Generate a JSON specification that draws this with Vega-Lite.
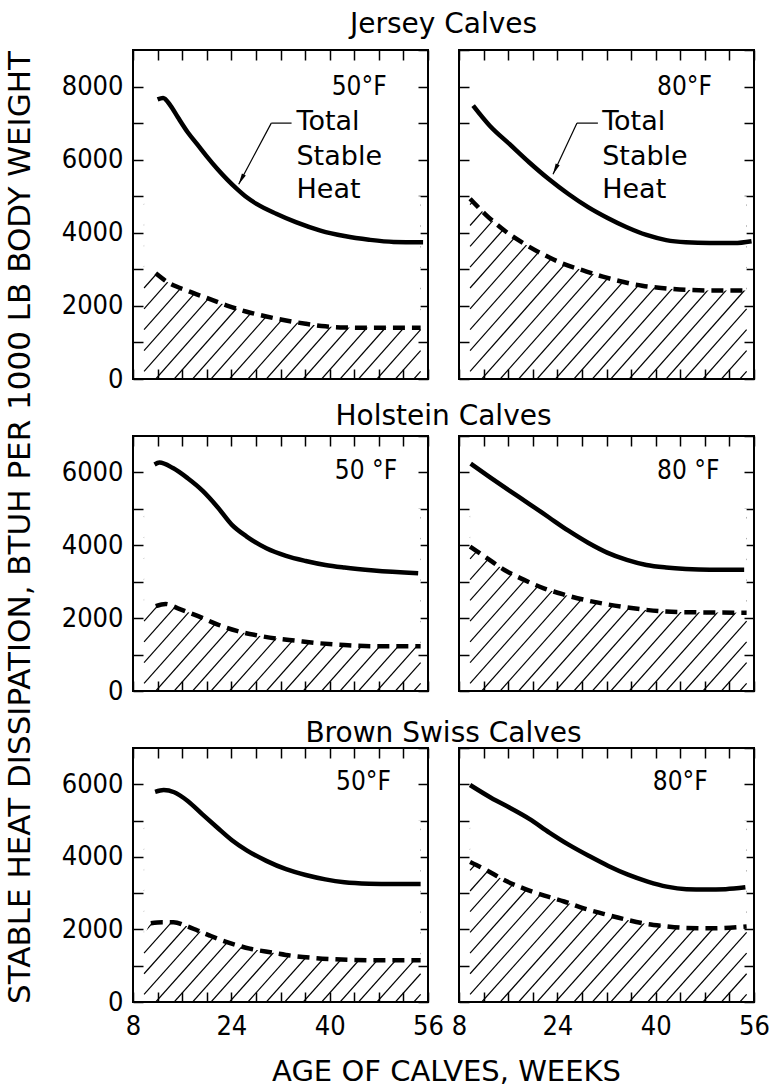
{
"$schema":"https://vega.github.io/schema/vega-lite/v6.json",
"background":"white",
"padding":{"left":2,"top":10,"right":0,"bottom":0},
"bounds":"flush",
"columns":2,
"spacing":{"row":57,"column":31},
"datasets":{
"curves":[
{"p":"J50","c":"total","w":12.0,"v":7650},{"p":"J50","c":"total","w":12.9,"v":7690},{"p":"J50","c":"total","w":14.1,"v":7480},{"p":"J50","c":"total","w":15.3,"v":7160},{"p":"J50","c":"total","w":16.9,"v":6750},{"p":"J50","c":"total","w":18.5,"v":6410},{"p":"J50","c":"total","w":20.1,"v":6070},{"p":"J50","c":"total","w":21.7,"v":5750},{"p":"J50","c":"total","w":23.3,"v":5460},{"p":"J50","c":"total","w":24.9,"v":5200},{"p":"J50","c":"total","w":26.5,"v":4970},{"p":"J50","c":"total","w":28.1,"v":4790},{"p":"J50","c":"total","w":31.3,"v":4520},{"p":"J50","c":"total","w":34.5,"v":4290},{"p":"J50","c":"total","w":38.5,"v":4060},{"p":"J50","c":"total","w":42.4,"v":3910},{"p":"J50","c":"total","w":46.4,"v":3810},{"p":"J50","c":"total","w":50.4,"v":3750},{"p":"J50","c":"total","w":55.2,"v":3740},
{"p":"J50","c":"edge","w":9.8,"v":2700},
{"p":"J50","c":"stable","w":11.7,"v":2890},{"p":"J50","c":"stable","w":13.7,"v":2640},{"p":"J50","c":"stable","w":16.9,"v":2410},{"p":"J50","c":"stable","w":20.1,"v":2210},{"p":"J50","c":"stable","w":23.3,"v":2010},{"p":"J50","c":"stable","w":26.5,"v":1840},{"p":"J50","c":"stable","w":29.7,"v":1710},{"p":"J50","c":"stable","w":32.9,"v":1600},{"p":"J50","c":"stable","w":36.1,"v":1510},{"p":"J50","c":"stable","w":39.3,"v":1440},{"p":"J50","c":"stable","w":42.4,"v":1410},{"p":"J50","c":"stable","w":47.2,"v":1400},{"p":"J50","c":"stable","w":54.8,"v":1400},
{"p":"J80","c":"total","w":10.3,"v":7480},{"p":"J80","c":"total","w":13.0,"v":6930},{"p":"J80","c":"total","w":16.2,"v":6430},{"p":"J80","c":"total","w":19.4,"v":5930},{"p":"J80","c":"total","w":22.6,"v":5470},{"p":"J80","c":"total","w":25.8,"v":5060},{"p":"J80","c":"total","w":29.0,"v":4700},{"p":"J80","c":"total","w":32.1,"v":4410},{"p":"J80","c":"total","w":35.3,"v":4150},{"p":"J80","c":"total","w":38.5,"v":3940},{"p":"J80","c":"total","w":41.7,"v":3800},{"p":"J80","c":"total","w":44.9,"v":3740},{"p":"J80","c":"total","w":48.8,"v":3720},{"p":"J80","c":"total","w":52.8,"v":3720},{"p":"J80","c":"total","w":55.6,"v":3770},
{"p":"J80","c":"stable","w":9.8,"v":4930},{"p":"J80","c":"stable","w":12.2,"v":4520},{"p":"J80","c":"stable","w":15.4,"v":4060},{"p":"J80","c":"stable","w":18.6,"v":3700},{"p":"J80","c":"stable","w":21.8,"v":3400},{"p":"J80","c":"stable","w":25.0,"v":3150},{"p":"J80","c":"stable","w":28.2,"v":2970},{"p":"J80","c":"stable","w":31.4,"v":2800},{"p":"J80","c":"stable","w":34.6,"v":2660},{"p":"J80","c":"stable","w":37.8,"v":2550},{"p":"J80","c":"stable","w":40.9,"v":2490},{"p":"J80","c":"stable","w":44.9,"v":2440},{"p":"J80","c":"stable","w":48.8,"v":2420},{"p":"J80","c":"stable","w":54.8,"v":2420},
{"p":"H50","c":"total","w":11.5,"v":6220},{"p":"H50","c":"total","w":12.3,"v":6270},{"p":"H50","c":"total","w":14.5,"v":6120},{"p":"H50","c":"total","w":16.9,"v":5840},{"p":"H50","c":"total","w":19.3,"v":5500},{"p":"H50","c":"total","w":21.7,"v":5060},{"p":"H50","c":"total","w":24.1,"v":4560},{"p":"H50","c":"total","w":26.5,"v":4240},{"p":"H50","c":"total","w":29.7,"v":3920},{"p":"H50","c":"total","w":32.9,"v":3710},{"p":"H50","c":"total","w":36.1,"v":3570},{"p":"H50","c":"total","w":39.3,"v":3460},{"p":"H50","c":"total","w":42.4,"v":3390},{"p":"H50","c":"total","w":47.2,"v":3310},{"p":"H50","c":"total","w":54.4,"v":3230},
{"p":"H50","c":"edge","w":9.8,"v":2100},
{"p":"H50","c":"stable","w":11.7,"v":2330},{"p":"H50","c":"stable","w":13.3,"v":2390},{"p":"H50","c":"stable","w":15.3,"v":2270},{"p":"H50","c":"stable","w":18.5,"v":2060},{"p":"H50","c":"stable","w":21.7,"v":1830},{"p":"H50","c":"stable","w":24.9,"v":1650},{"p":"H50","c":"stable","w":28.1,"v":1530},{"p":"H50","c":"stable","w":31.3,"v":1440},{"p":"H50","c":"stable","w":34.5,"v":1380},{"p":"H50","c":"stable","w":37.7,"v":1320},{"p":"H50","c":"stable","w":42.4,"v":1260},{"p":"H50","c":"stable","w":47.2,"v":1230},{"p":"H50","c":"stable","w":54.8,"v":1230},
{"p":"H80","c":"total","w":9.9,"v":6240},{"p":"H80","c":"total","w":13.0,"v":5870},{"p":"H80","c":"total","w":16.2,"v":5500},{"p":"H80","c":"total","w":19.4,"v":5140},{"p":"H80","c":"total","w":22.6,"v":4770},{"p":"H80","c":"total","w":25.8,"v":4400},{"p":"H80","c":"total","w":29.0,"v":4070},{"p":"H80","c":"total","w":32.1,"v":3800},{"p":"H80","c":"total","w":35.3,"v":3600},{"p":"H80","c":"total","w":38.5,"v":3460},{"p":"H80","c":"total","w":41.7,"v":3390},{"p":"H80","c":"total","w":44.9,"v":3350},{"p":"H80","c":"total","w":48.8,"v":3330},{"p":"H80","c":"total","w":54.4,"v":3330},
{"p":"H80","c":"stable","w":9.8,"v":3960},{"p":"H80","c":"stable","w":12.2,"v":3690},{"p":"H80","c":"stable","w":15.4,"v":3320},{"p":"H80","c":"stable","w":18.6,"v":3050},{"p":"H80","c":"stable","w":21.8,"v":2820},{"p":"H80","c":"stable","w":25.0,"v":2650},{"p":"H80","c":"stable","w":28.2,"v":2510},{"p":"H80","c":"stable","w":31.4,"v":2400},{"p":"H80","c":"stable","w":34.6,"v":2310},{"p":"H80","c":"stable","w":37.8,"v":2240},{"p":"H80","c":"stable","w":41.7,"v":2180},{"p":"H80","c":"stable","w":46.5,"v":2160},{"p":"H80","c":"stable","w":54.8,"v":2150},
{"p":"B50","c":"total","w":11.6,"v":5790},{"p":"B50","c":"total","w":13.0,"v":5840},{"p":"B50","c":"total","w":14.7,"v":5780},{"p":"B50","c":"total","w":16.9,"v":5540},{"p":"B50","c":"total","w":19.3,"v":5170},{"p":"B50","c":"total","w":21.7,"v":4810},{"p":"B50","c":"total","w":24.1,"v":4460},{"p":"B50","c":"total","w":26.5,"v":4180},{"p":"B50","c":"total","w":29.7,"v":3890},{"p":"B50","c":"total","w":32.9,"v":3660},{"p":"B50","c":"total","w":36.1,"v":3500},{"p":"B50","c":"total","w":39.3,"v":3380},{"p":"B50","c":"total","w":42.4,"v":3300},{"p":"B50","c":"total","w":46.4,"v":3260},{"p":"B50","c":"total","w":50.4,"v":3250},{"p":"B50","c":"total","w":54.8,"v":3250},
{"p":"B50","c":"edge","w":9.8,"v":1700},
{"p":"B50","c":"stable","w":10.9,"v":2170},{"p":"B50","c":"stable","w":12.8,"v":2200},{"p":"B50","c":"stable","w":14.6,"v":2200},{"p":"B50","c":"stable","w":16.6,"v":2100},{"p":"B50","c":"stable","w":18.5,"v":1970},{"p":"B50","c":"stable","w":20.5,"v":1830},{"p":"B50","c":"stable","w":22.8,"v":1680},{"p":"B50","c":"stable","w":25.0,"v":1560},{"p":"B50","c":"stable","w":27.0,"v":1470},{"p":"B50","c":"stable","w":30.8,"v":1360},{"p":"B50","c":"stable","w":34.0,"v":1270},{"p":"B50","c":"stable","w":37.0,"v":1220},{"p":"B50","c":"stable","w":40.7,"v":1180},{"p":"B50","c":"stable","w":44.0,"v":1160},{"p":"B50","c":"stable","w":48.0,"v":1150},{"p":"B50","c":"stable","w":54.8,"v":1150},
{"p":"B80","c":"total","w":9.8,"v":5980},{"p":"B80","c":"total","w":13.2,"v":5630},{"p":"B80","c":"total","w":16.4,"v":5340},{"p":"B80","c":"total","w":19.5,"v":5040},{"p":"B80","c":"total","w":22.7,"v":4670},{"p":"B80","c":"total","w":25.9,"v":4330},{"p":"B80","c":"total","w":29.1,"v":4030},{"p":"B80","c":"total","w":32.3,"v":3750},{"p":"B80","c":"total","w":35.5,"v":3510},{"p":"B80","c":"total","w":38.7,"v":3320},{"p":"B80","c":"total","w":41.8,"v":3180},{"p":"B80","c":"total","w":45.0,"v":3110},{"p":"B80","c":"total","w":48.2,"v":3100},{"p":"B80","c":"total","w":51.4,"v":3110},{"p":"B80","c":"total","w":54.6,"v":3160},
{"p":"B80","c":"stable","w":9.8,"v":3860},{"p":"B80","c":"stable","w":12.4,"v":3640},{"p":"B80","c":"stable","w":15.6,"v":3340},{"p":"B80","c":"stable","w":18.8,"v":3110},{"p":"B80","c":"stable","w":21.9,"v":2930},{"p":"B80","c":"stable","w":25.1,"v":2770},{"p":"B80","c":"stable","w":28.3,"v":2580},{"p":"B80","c":"stable","w":31.5,"v":2430},{"p":"B80","c":"stable","w":34.7,"v":2290},{"p":"B80","c":"stable","w":37.9,"v":2170},{"p":"B80","c":"stable","w":41.0,"v":2100},{"p":"B80","c":"stable","w":45.0,"v":2040},{"p":"B80","c":"stable","w":49.0,"v":2030},{"p":"B80","c":"stable","w":54.8,"v":2080}
],
"hatch":[
{"x1":9.8,"y1":4769,"x2":10.75,"y2":4950},{"x1":9.8,"y1":4199,"x2":13.75,"y2":4950},{"x1":9.8,"y1":3629,"x2":16.75,"y2":4950},{"x1":9.8,"y1":3059,"x2":19.75,"y2":4950},{"x1":9.8,"y1":2489,"x2":22.75,"y2":4950},{"x1":9.8,"y1":1919,"x2":25.75,"y2":4950},{"x1":9.8,"y1":1349,"x2":28.75,"y2":4950},{"x1":9.8,"y1":779,"x2":31.75,"y2":4950},{"x1":9.8,"y1":209,"x2":34.75,"y2":4950},
{"x1":11.7,"y1":0,"x2":37.75,"y2":4950},{"x1":14.7,"y1":0,"x2":40.75,"y2":4950},{"x1":17.7,"y1":0,"x2":43.75,"y2":4950},{"x1":20.7,"y1":0,"x2":46.75,"y2":4950},{"x1":23.7,"y1":0,"x2":49.75,"y2":4950},{"x1":26.7,"y1":0,"x2":52.75,"y2":4950},
{"x1":29.7,"y1":0,"x2":54.8,"y2":4769},{"x1":32.7,"y1":0,"x2":54.8,"y2":4199},{"x1":35.7,"y1":0,"x2":54.8,"y2":3629},{"x1":38.7,"y1":0,"x2":54.8,"y2":3059},{"x1":41.7,"y1":0,"x2":54.8,"y2":2489},{"x1":44.7,"y1":0,"x2":54.8,"y2":1919},{"x1":47.7,"y1":0,"x2":54.8,"y2":1349},{"x1":50.7,"y1":0,"x2":54.8,"y2":779},{"x1":53.7,"y1":0,"x2":54.8,"y2":209}
],
"labels":[
{"p":"J50","t":"50°F","w":44.8,"v":7770},{"p":"J80","t":"80°F","w":44.7,"v":7770},{"p":"H50","t":"50 °F","w":45.9,"v":5820},{"p":"H80","t":"80 °F","w":45.3,"v":5820},{"p":"B50","t":"50°F","w":45.5,"v":5840},{"p":"B80","t":"80°F","w":44.0,"v":5840}
],
"notes":[
{"p":"J50","t":"Total","w":34.6,"v":6810},{"p":"J50","t":"Stable","w":34.6,"v":5850},{"p":"J50","t":"Heat","w":34.6,"v":4950},
{"p":"J80","t":"Total","w":31.3,"v":6810},{"p":"J80","t":"Stable","w":31.3,"v":5850},{"p":"J80","t":"Heat","w":31.3,"v":4950}
],
"leaders":[
{"p":"J50","w":30.5,"v":7000,"w2":33.8,"v2":7000},{"p":"J50","w":30.5,"v":7000,"w2":25.2,"v2":5330},
{"p":"J80","w":27.2,"v":7000,"w2":30.6,"v2":7000},{"p":"J80","w":27.2,"v":7000,"w2":23.3,"v2":5600}
],
"arrows":[
{"p":"J50","w":25.62,"v":5463},{"p":"J80","w":23.68,"v":5736}
]
},
"concat":[
{"width":295,"height":329,"title":{"text":"Jersey Calves","offset":10,"dx":163},
"layer":[
{"data":{"name":"hatch"},"mark":{"type":"rule","color":"black","strokeWidth":1.2,"clip":true},
"encoding":{"x":{"field":"x1","type":"quantitative","scale":{"domain":[8,56],"nice":false,"zero":false},"axis":{"orient":"bottom","values":[8,12,16,20,24,28,32,36,40,44,48,52,56],"labels":false,"title":null}},
"y":{"field":"y1","type":"quantitative","scale":{"domain":[0,9000],"nice":false},"axis":{"orient":"left","values":[0,1000,2000,3000,4000,5000,6000,7000,8000],"format":"d","labelExpr":"datum.value % 2000 === 0 ? datum.label : ''","labelPadding":20,"title":null}},
"x2":{"field":"x2"},"y2":{"field":"y2"}}},
{"data":{"name":"curves"},"transform":[{"filter":"datum.p === 'J50' && datum.c !== 'total'"}],
"mark":{"type":"area","color":"white","opacity":1,"interpolate":"monotone"},
"encoding":{"x":{"field":"w","type":"quantitative","scale":{"domain":[8,56],"nice":false,"zero":false},"axis":{"orient":"top","values":[8,12,16,20,24,28,32,36,40,44,48,52,56],"labels":false,"title":null}},
"y":{"field":"v","type":"quantitative","scale":{"domain":[0,9000],"nice":false},"axis":{"orient":"right","values":[0,1000,2000,3000,4000,5000,6000,7000,8000,9000],"labels":false,"title":null}},
"y2":{"datum":5000}}},
{"data":{"name":"curves"},"transform":[{"filter":"datum.p === 'J50' && datum.c === 'stable'"}],
"mark":{"type":"line","color":"black","strokeWidth":4.5,"strokeDash":[12,7],"interpolate":"monotone"},
"encoding":{"x":{"field":"w","type":"quantitative","scale":{"domain":[8,56],"nice":false,"zero":false},"axis":null},"y":{"field":"v","type":"quantitative","scale":{"domain":[0,9000],"nice":false},"axis":null}}},
{"data":{"name":"curves"},"transform":[{"filter":"datum.p === 'J50' && datum.c === 'total'"}],
"mark":{"type":"line","color":"black","strokeWidth":4.5,"interpolate":"monotone"},
"encoding":{"x":{"field":"w","type":"quantitative","scale":{"domain":[8,56],"nice":false,"zero":false},"axis":null},"y":{"field":"v","type":"quantitative","scale":{"domain":[0,9000],"nice":false},"axis":null}}},
{"data":{"name":"labels"},"transform":[{"filter":"datum.p === 'J50'"}],
"mark":{"type":"text","align":"center","baseline":"alphabetic","font":"DejaVu Sans Condensed, Liberation Sans Narrow, DejaVu Sans","fontSize":26,"color":"black"},
"encoding":{"x":{"field":"w","type":"quantitative","scale":{"domain":[8,56],"nice":false,"zero":false},"axis":null},"y":{"field":"v","type":"quantitative","scale":{"domain":[0,9000],"nice":false},"axis":null},"text":{"field":"t"}}},
{"data":{"name":"notes"},"transform":[{"filter":"datum.p === 'J50'"}],
"mark":{"type":"text","align":"left","baseline":"alphabetic","font":"DejaVu Sans","fontSize":27,"color":"black"},
"encoding":{"x":{"field":"w","type":"quantitative","scale":{"domain":[8,56],"nice":false,"zero":false},"axis":null},"y":{"field":"v","type":"quantitative","scale":{"domain":[0,9000],"nice":false},"axis":null},"text":{"field":"t"}}},
{"data":{"name":"leaders"},"transform":[{"filter":"datum.p === 'J50'"}],
"mark":{"type":"rule","color":"black","strokeWidth":1.2},
"encoding":{"x":{"field":"w","type":"quantitative","scale":{"domain":[8,56],"nice":false,"zero":false},"axis":null},"y":{"field":"v","type":"quantitative","scale":{"domain":[0,9000],"nice":false},"axis":null},"x2":{"field":"w2"},"y2":{"field":"v2"}}},
{"data":{"name":"arrows"},"transform":[{"filter":"datum.p === 'J50'"}],
"mark":{"type":"point","shape":"M0,-1L0.4,1L-0.4,1Z","filled":true,"color":"black","opacity":1,"size":121,"angle":208},
"encoding":{"x":{"field":"w","type":"quantitative","scale":{"domain":[8,56],"nice":false,"zero":false},"axis":null},"y":{"field":"v","type":"quantitative","scale":{"domain":[0,9000],"nice":false},"axis":null}}}
],
"resolve":{"axis":{"x":"independent","y":"independent"}}},
{"width":295,"height":329,
"layer":[
{"data":{"name":"hatch"},"mark":{"type":"rule","color":"black","strokeWidth":1.2,"clip":true},
"encoding":{"x":{"field":"x1","type":"quantitative","scale":{"domain":[8,56],"nice":false,"zero":false},"axis":{"orient":"bottom","values":[8,12,16,20,24,28,32,36,40,44,48,52,56],"labels":false,"title":null}},
"y":{"field":"y1","type":"quantitative","scale":{"domain":[0,9000],"nice":false},"axis":{"orient":"left","values":[0,1000,2000,3000,4000,5000,6000,7000,8000,9000],"labels":false,"title":null}},
"x2":{"field":"x2"},"y2":{"field":"y2"}}},
{"data":{"name":"curves"},"transform":[{"filter":"datum.p === 'J80' && datum.c !== 'total'"}],
"mark":{"type":"area","color":"white","opacity":1,"interpolate":"monotone"},
"encoding":{"x":{"field":"w","type":"quantitative","scale":{"domain":[8,56],"nice":false,"zero":false},"axis":{"orient":"top","values":[8,12,16,20,24,28,32,36,40,44,48,52,56],"labels":false,"title":null}},
"y":{"field":"v","type":"quantitative","scale":{"domain":[0,9000],"nice":false},"axis":{"orient":"right","values":[0,1000,2000,3000,4000,5000,6000,7000,8000,9000],"labels":false,"title":null}},
"y2":{"datum":5000}}},
{"data":{"name":"curves"},"transform":[{"filter":"datum.p === 'J80' && datum.c === 'stable'"}],
"mark":{"type":"line","color":"black","strokeWidth":4.5,"strokeDash":[12,7],"interpolate":"monotone"},
"encoding":{"x":{"field":"w","type":"quantitative","scale":{"domain":[8,56],"nice":false,"zero":false},"axis":null},"y":{"field":"v","type":"quantitative","scale":{"domain":[0,9000],"nice":false},"axis":null}}},
{"data":{"name":"curves"},"transform":[{"filter":"datum.p === 'J80' && datum.c === 'total'"}],
"mark":{"type":"line","color":"black","strokeWidth":4.5,"interpolate":"monotone"},
"encoding":{"x":{"field":"w","type":"quantitative","scale":{"domain":[8,56],"nice":false,"zero":false},"axis":null},"y":{"field":"v","type":"quantitative","scale":{"domain":[0,9000],"nice":false},"axis":null}}},
{"data":{"name":"labels"},"transform":[{"filter":"datum.p === 'J80'"}],
"mark":{"type":"text","align":"center","baseline":"alphabetic","font":"DejaVu Sans Condensed, Liberation Sans Narrow, DejaVu Sans","fontSize":26,"color":"black"},
"encoding":{"x":{"field":"w","type":"quantitative","scale":{"domain":[8,56],"nice":false,"zero":false},"axis":null},"y":{"field":"v","type":"quantitative","scale":{"domain":[0,9000],"nice":false},"axis":null},"text":{"field":"t"}}},
{"data":{"name":"notes"},"transform":[{"filter":"datum.p === 'J80'"}],
"mark":{"type":"text","align":"left","baseline":"alphabetic","font":"DejaVu Sans","fontSize":27,"color":"black"},
"encoding":{"x":{"field":"w","type":"quantitative","scale":{"domain":[8,56],"nice":false,"zero":false},"axis":null},"y":{"field":"v","type":"quantitative","scale":{"domain":[0,9000],"nice":false},"axis":null},"text":{"field":"t"}}},
{"data":{"name":"leaders"},"transform":[{"filter":"datum.p === 'J80'"}],
"mark":{"type":"rule","color":"black","strokeWidth":1.2},
"encoding":{"x":{"field":"w","type":"quantitative","scale":{"domain":[8,56],"nice":false,"zero":false},"axis":null},"y":{"field":"v","type":"quantitative","scale":{"domain":[0,9000],"nice":false},"axis":null},"x2":{"field":"w2"},"y2":{"field":"v2"}}},
{"data":{"name":"arrows"},"transform":[{"filter":"datum.p === 'J80'"}],
"mark":{"type":"point","shape":"M0,-1L0.4,1L-0.4,1Z","filled":true,"color":"black","opacity":1,"size":121,"angle":205},
"encoding":{"x":{"field":"w","type":"quantitative","scale":{"domain":[8,56],"nice":false,"zero":false},"axis":null},"y":{"field":"v","type":"quantitative","scale":{"domain":[0,9000],"nice":false},"axis":null}}}
],
"resolve":{"axis":{"x":"independent","y":"independent"}}},
{"width":295,"height":255,"title":{"text":"Holstein Calves","offset":4,"dx":163},
"layer":[
{"data":{"name":"hatch"},"mark":{"type":"rule","color":"black","strokeWidth":1.2,"clip":true},
"encoding":{"x":{"field":"x1","type":"quantitative","scale":{"domain":[8,56],"nice":false,"zero":false},"axis":{"orient":"bottom","values":[8,12,16,20,24,28,32,36,40,44,48,52,56],"labels":false,"title":null}},
"y":{"field":"y1","type":"quantitative","scale":{"domain":[0,7000],"nice":false},"axis":{"orient":"left","values":[0,1000,2000,3000,4000,5000,6000],"format":"d","labelExpr":"datum.value % 2000 === 0 ? datum.label : ''","labelPadding":20,"title":null}},
"x2":{"field":"x2"},"y2":{"field":"y2"}}},
{"data":{"name":"curves"},"transform":[{"filter":"datum.p === 'H50' && datum.c !== 'total'"}],
"mark":{"type":"area","color":"white","opacity":1,"interpolate":"monotone"},
"encoding":{"x":{"field":"w","type":"quantitative","scale":{"domain":[8,56],"nice":false,"zero":false},"axis":{"orient":"top","values":[8,12,16,20,24,28,32,36,40,44,48,52,56],"labels":false,"title":null}},
"y":{"field":"v","type":"quantitative","scale":{"domain":[0,7000],"nice":false},"axis":{"orient":"right","values":[0,1000,2000,3000,4000,5000,6000,7000],"labels":false,"title":null}},
"y2":{"datum":5000}}},
{"data":{"name":"curves"},"transform":[{"filter":"datum.p === 'H50' && datum.c === 'stable'"}],
"mark":{"type":"line","color":"black","strokeWidth":4.5,"strokeDash":[12,7],"interpolate":"monotone"},
"encoding":{"x":{"field":"w","type":"quantitative","scale":{"domain":[8,56],"nice":false,"zero":false},"axis":null},"y":{"field":"v","type":"quantitative","scale":{"domain":[0,7000],"nice":false},"axis":null}}},
{"data":{"name":"curves"},"transform":[{"filter":"datum.p === 'H50' && datum.c === 'total'"}],
"mark":{"type":"line","color":"black","strokeWidth":4.5,"interpolate":"monotone"},
"encoding":{"x":{"field":"w","type":"quantitative","scale":{"domain":[8,56],"nice":false,"zero":false},"axis":null},"y":{"field":"v","type":"quantitative","scale":{"domain":[0,7000],"nice":false},"axis":null}}},
{"data":{"name":"labels"},"transform":[{"filter":"datum.p === 'H50'"}],
"mark":{"type":"text","align":"center","baseline":"alphabetic","font":"DejaVu Sans Condensed, Liberation Sans Narrow, DejaVu Sans","fontSize":26,"color":"black"},
"encoding":{"x":{"field":"w","type":"quantitative","scale":{"domain":[8,56],"nice":false,"zero":false},"axis":null},"y":{"field":"v","type":"quantitative","scale":{"domain":[0,7000],"nice":false},"axis":null},"text":{"field":"t"}}}
],
"resolve":{"axis":{"x":"independent","y":"independent"}}},
{"width":295,"height":255,
"layer":[
{"data":{"name":"hatch"},"mark":{"type":"rule","color":"black","strokeWidth":1.2,"clip":true},
"encoding":{"x":{"field":"x1","type":"quantitative","scale":{"domain":[8,56],"nice":false,"zero":false},"axis":{"orient":"bottom","values":[8,12,16,20,24,28,32,36,40,44,48,52,56],"labels":false,"title":null}},
"y":{"field":"y1","type":"quantitative","scale":{"domain":[0,7000],"nice":false},"axis":{"orient":"left","values":[0,1000,2000,3000,4000,5000,6000,7000],"labels":false,"title":"STABLE HEAT DISSIPATION, BTUH PER 1000 LB BODY WEIGHT","titleX":-439,"titleY":91,"titleAngle":-90,"titleAlign":"center","titleBaseline":"middle","titleFontSize":31}},
"x2":{"field":"x2"},"y2":{"field":"y2"}}},
{"data":{"name":"curves"},"transform":[{"filter":"datum.p === 'H80' && datum.c !== 'total'"}],
"mark":{"type":"area","color":"white","opacity":1,"interpolate":"monotone"},
"encoding":{"x":{"field":"w","type":"quantitative","scale":{"domain":[8,56],"nice":false,"zero":false},"axis":{"orient":"top","values":[8,12,16,20,24,28,32,36,40,44,48,52,56],"labels":false,"title":null}},
"y":{"field":"v","type":"quantitative","scale":{"domain":[0,7000],"nice":false},"axis":{"orient":"right","values":[0,1000,2000,3000,4000,5000,6000,7000],"labels":false,"title":null}},
"y2":{"datum":5000}}},
{"data":{"name":"curves"},"transform":[{"filter":"datum.p === 'H80' && datum.c === 'stable'"}],
"mark":{"type":"line","color":"black","strokeWidth":4.5,"strokeDash":[12,7],"interpolate":"monotone"},
"encoding":{"x":{"field":"w","type":"quantitative","scale":{"domain":[8,56],"nice":false,"zero":false},"axis":null},"y":{"field":"v","type":"quantitative","scale":{"domain":[0,7000],"nice":false},"axis":null}}},
{"data":{"name":"curves"},"transform":[{"filter":"datum.p === 'H80' && datum.c === 'total'"}],
"mark":{"type":"line","color":"black","strokeWidth":4.5,"interpolate":"monotone"},
"encoding":{"x":{"field":"w","type":"quantitative","scale":{"domain":[8,56],"nice":false,"zero":false},"axis":null},"y":{"field":"v","type":"quantitative","scale":{"domain":[0,7000],"nice":false},"axis":null}}},
{"data":{"name":"labels"},"transform":[{"filter":"datum.p === 'H80'"}],
"mark":{"type":"text","align":"center","baseline":"alphabetic","font":"DejaVu Sans Condensed, Liberation Sans Narrow, DejaVu Sans","fontSize":26,"color":"black"},
"encoding":{"x":{"field":"w","type":"quantitative","scale":{"domain":[8,56],"nice":false,"zero":false},"axis":null},"y":{"field":"v","type":"quantitative","scale":{"domain":[0,7000],"nice":false},"axis":null},"text":{"field":"t"}}}
],
"resolve":{"axis":{"x":"independent","y":"independent"}}},
{"width":295,"height":254,"title":{"text":"Brown Swiss Calves","offset":-1,"dx":163},
"layer":[
{"data":{"name":"hatch"},"mark":{"type":"rule","color":"black","strokeWidth":1.2,"clip":true},
"encoding":{"x":{"field":"x1","type":"quantitative","scale":{"domain":[8,56],"nice":false,"zero":false},"axis":{"orient":"bottom","values":[8,12,16,20,24,28,32,36,40,44,48,52,56],"format":"d","labelExpr":"(datum.value - 8) % 16 === 0 ? datum.label : ''","labelPadding":21,"title":"AGE OF CALVES, WEEKS","titleX":313,"titleY":78,"titleAlign":"center","titleBaseline":"alphabetic","titleFontSize":29}},
"y":{"field":"y1","type":"quantitative","scale":{"domain":[0,7000],"nice":false},"axis":{"orient":"left","values":[0,1000,2000,3000,4000,5000,6000],"format":"d","labelExpr":"datum.value % 2000 === 0 ? datum.label : ''","labelPadding":20,"title":null}},
"x2":{"field":"x2"},"y2":{"field":"y2"}}},
{"data":{"name":"curves"},"transform":[{"filter":"datum.p === 'B50' && datum.c !== 'total'"}],
"mark":{"type":"area","color":"white","opacity":1,"interpolate":"monotone"},
"encoding":{"x":{"field":"w","type":"quantitative","scale":{"domain":[8,56],"nice":false,"zero":false},"axis":{"orient":"top","values":[8,12,16,20,24,28,32,36,40,44,48,52,56],"labels":false,"title":null}},
"y":{"field":"v","type":"quantitative","scale":{"domain":[0,7000],"nice":false},"axis":{"orient":"right","values":[0,1000,2000,3000,4000,5000,6000,7000],"labels":false,"title":null}},
"y2":{"datum":5000}}},
{"data":{"name":"curves"},"transform":[{"filter":"datum.p === 'B50' && datum.c === 'stable'"}],
"mark":{"type":"line","color":"black","strokeWidth":4.5,"strokeDash":[12,7],"interpolate":"monotone"},
"encoding":{"x":{"field":"w","type":"quantitative","scale":{"domain":[8,56],"nice":false,"zero":false},"axis":null},"y":{"field":"v","type":"quantitative","scale":{"domain":[0,7000],"nice":false},"axis":null}}},
{"data":{"name":"curves"},"transform":[{"filter":"datum.p === 'B50' && datum.c === 'total'"}],
"mark":{"type":"line","color":"black","strokeWidth":4.5,"interpolate":"monotone"},
"encoding":{"x":{"field":"w","type":"quantitative","scale":{"domain":[8,56],"nice":false,"zero":false},"axis":null},"y":{"field":"v","type":"quantitative","scale":{"domain":[0,7000],"nice":false},"axis":null}}},
{"data":{"name":"labels"},"transform":[{"filter":"datum.p === 'B50'"}],
"mark":{"type":"text","align":"center","baseline":"alphabetic","font":"DejaVu Sans Condensed, Liberation Sans Narrow, DejaVu Sans","fontSize":26,"color":"black"},
"encoding":{"x":{"field":"w","type":"quantitative","scale":{"domain":[8,56],"nice":false,"zero":false},"axis":null},"y":{"field":"v","type":"quantitative","scale":{"domain":[0,7000],"nice":false},"axis":null},"text":{"field":"t"}}}
],
"resolve":{"axis":{"x":"independent","y":"independent"}}},
{"width":295,"height":254,
"layer":[
{"data":{"name":"hatch"},"mark":{"type":"rule","color":"black","strokeWidth":1.2,"clip":true},
"encoding":{"x":{"field":"x1","type":"quantitative","scale":{"domain":[8,56],"nice":false,"zero":false},"axis":{"orient":"bottom","values":[8,12,16,20,24,28,32,36,40,44,48,52,56],"format":"d","labelExpr":"(datum.value - 8) % 16 === 0 ? datum.label : ''","labelPadding":21,"title":null}},
"y":{"field":"y1","type":"quantitative","scale":{"domain":[0,7000],"nice":false},"axis":{"orient":"left","values":[0,1000,2000,3000,4000,5000,6000,7000],"labels":false,"title":null}},
"x2":{"field":"x2"},"y2":{"field":"y2"}}},
{"data":{"name":"curves"},"transform":[{"filter":"datum.p === 'B80' && datum.c !== 'total'"}],
"mark":{"type":"area","color":"white","opacity":1,"interpolate":"monotone"},
"encoding":{"x":{"field":"w","type":"quantitative","scale":{"domain":[8,56],"nice":false,"zero":false},"axis":{"orient":"top","values":[8,12,16,20,24,28,32,36,40,44,48,52,56],"labels":false,"title":null}},
"y":{"field":"v","type":"quantitative","scale":{"domain":[0,7000],"nice":false},"axis":{"orient":"right","values":[0,1000,2000,3000,4000,5000,6000,7000],"labels":false,"title":null}},
"y2":{"datum":5000}}},
{"data":{"name":"curves"},"transform":[{"filter":"datum.p === 'B80' && datum.c === 'stable'"}],
"mark":{"type":"line","color":"black","strokeWidth":4.5,"strokeDash":[12,7],"interpolate":"monotone"},
"encoding":{"x":{"field":"w","type":"quantitative","scale":{"domain":[8,56],"nice":false,"zero":false},"axis":null},"y":{"field":"v","type":"quantitative","scale":{"domain":[0,7000],"nice":false},"axis":null}}},
{"data":{"name":"curves"},"transform":[{"filter":"datum.p === 'B80' && datum.c === 'total'"}],
"mark":{"type":"line","color":"black","strokeWidth":4.5,"interpolate":"monotone"},
"encoding":{"x":{"field":"w","type":"quantitative","scale":{"domain":[8,56],"nice":false,"zero":false},"axis":null},"y":{"field":"v","type":"quantitative","scale":{"domain":[0,7000],"nice":false},"axis":null}}},
{"data":{"name":"labels"},"transform":[{"filter":"datum.p === 'B80'"}],
"mark":{"type":"text","align":"center","baseline":"alphabetic","font":"DejaVu Sans Condensed, Liberation Sans Narrow, DejaVu Sans","fontSize":26,"color":"black"},
"encoding":{"x":{"field":"w","type":"quantitative","scale":{"domain":[8,56],"nice":false,"zero":false},"axis":null},"y":{"field":"v","type":"quantitative","scale":{"domain":[0,7000],"nice":false},"axis":null},"text":{"field":"t"}}}
],
"resolve":{"axis":{"x":"independent","y":"independent"}}}
],
"config":{
"view":{"stroke":"black","strokeWidth":2},
"axis":{"grid":false,"domain":false,"tickSize":-10,"tickWidth":1.5,"tickColor":"black","zindex":1,"labelFlush":false,"labelOverlap":false,"labelFont":"DejaVu Sans Condensed, Liberation Sans Narrow, DejaVu Sans","labelFontSize":27,"labelColor":"black","titleFont":"DejaVu Sans","titleFontWeight":"normal","titleColor":"black"},
"title":{"font":"DejaVu Sans","fontSize":28,"fontWeight":"normal","color":"black","anchor":"middle","frame":"group","baseline":"alphabetic"}
}
}
